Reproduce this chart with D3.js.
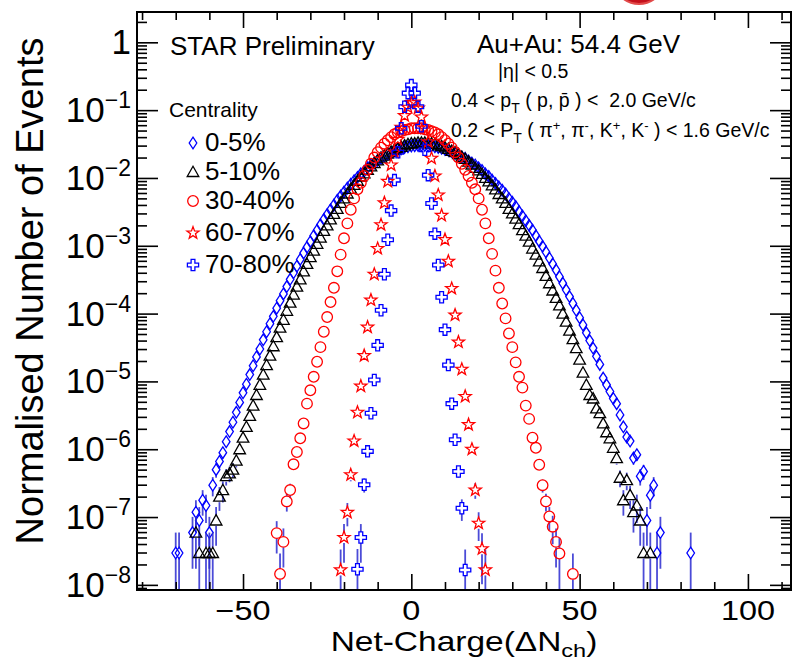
<!DOCTYPE html>
<html>
<head>
<meta charset="utf-8">
<script src="https://cdn.jsdelivr.net/npm/d3@7"></script>
<style>
  html, body { margin: 0; padding: 0; background: #ffffff; }
  svg { display: block; font-family: "Liberation Sans", Arial, Helvetica, sans-serif; }
</style>
</head>
<body>
<svg id="chart" width="792" height="662"></svg>
<script>
// ---------------- data ----------------
// Normalised event counts per net-charge bin (one bin per integer ΔN_ch),
// null where a bin is empty.
const centralityLabels = ["0-5%", "5-10%", "30-40%", "60-70%", "70-80%"];

const firstBin0to5 = -70;
const events0to5 = [
  2.95e-8, 2.95e-8, null, null, null, 5.9e-8, 1.18e-7, 8.9e-8, 1.77e-7, 1.48e-7,
  5.9e-8, 2.95e-7, 5.0e-7, 6.6e-7, 8.9e-7, 1.29e-6, 1.82e-6, 2.5e-6, 3.5e-6, 4.9e-6,
  6.8e-6, 9.1e-6, 1.26e-5, 1.70e-5, 2.3e-5, 3.0e-5, 4.1e-5, 5.4e-5, 7.1e-5, 9.1e-5,
  1.20e-4, 1.55e-4, 1.95e-4, 2.5e-4, 3.2e-4, 4.0e-4, 5.0e-4, 6.3e-4, 7.8e-4, 9.5e-4,
  1.15e-3, 1.41e-3, 1.70e-3, 2.04e-3, 2.45e-3, 2.9e-3, 3.4e-3, 4.0e-3, 4.7e-3, 5.4e-3,
  6.2e-3, 7.1e-3, 8.1e-3, 9.1e-3, 1.02e-2, 1.15e-2, 1.26e-2, 1.41e-2, 1.55e-2, 1.66e-2,
  1.82e-2, 1.95e-2, 2.09e-2, 2.24e-2, 2.34e-2, 2.5e-2, 2.63e-2, 2.69e-2, 2.82e-2, 2.88e-2,
  2.95e-2, 2.99e-2, 3.02e-2, 3.02e-2, 3.02e-2, 2.99e-2, 2.95e-2, 2.88e-2, 2.82e-2, 2.75e-2,
  2.63e-2, 2.57e-2, 2.45e-2, 2.29e-2, 2.19e-2, 2.04e-2, 1.95e-2, 1.78e-2, 1.66e-2, 1.55e-2,
  1.41e-2, 1.29e-2, 1.15e-2, 1.05e-2, 9.3e-3, 8.3e-3, 7.4e-3, 6.6e-3, 5.8e-3, 5.0e-3,
  4.4e-3, 3.8e-3, 3.2e-3, 2.75e-3, 2.34e-3, 2.0e-3, 1.70e-3, 1.41e-3, 1.17e-3, 9.8e-4,
  8.1e-4, 6.6e-4, 5.4e-4, 4.4e-4, 3.5e-4, 2.8e-4, 2.24e-4, 1.78e-4, 1.41e-4, 1.12e-4,
  8.7e-5, 6.8e-5, 5.2e-5, 4.0e-5, 3.1e-5, 2.34e-5, 1.78e-5, 1.12e-5, 8.9e-6, 7.1e-6,
  5.6e-6, 4.7e-6, 3.2e-6, 2.14e-6, 1.51e-6, 1.32e-6, 7.4e-7, 8.3e-7, 4.0e-7, 4.7e-7,
  8.9e-8, 2.1e-7, 2.95e-7, 2.95e-8, 5.9e-8, null, null, null, null, null,
  null, null, null, 2.95e-8
];

const firstBin5to10 = -64;
const events5to10 = [
  5.9e-8, 2.95e-8, null, 2.95e-8, 2.95e-8, 2.95e-8, 8.9e-8, 2.0e-7, 2.5e-7, 4.0e-7,
  4.4e-7, 5.0e-7, 6.8e-7, 1.0e-6, 1.48e-6, 2.14e-6, 3.1e-6, 4.4e-6, 6.3e-6, 8.9e-6,
  1.26e-5, 1.74e-5, 2.4e-5, 3.3e-5, 4.5e-5, 6.2e-5, 8.1e-5, 1.10e-4, 1.45e-4, 1.91e-4,
  2.5e-4, 3.2e-4, 4.2e-4, 5.4e-4, 6.8e-4, 8.5e-4, 1.07e-3, 1.32e-3, 1.66e-3, 2.0e-3,
  2.45e-3, 2.95e-3, 3.5e-3, 4.3e-3, 5.0e-3, 5.9e-3, 6.9e-3, 7.9e-3, 9.1e-3, 1.05e-2,
  1.17e-2, 1.32e-2, 1.48e-2, 1.66e-2, 1.82e-2, 2.0e-2, 2.14e-2, 2.29e-2, 2.45e-2, 2.63e-2,
  2.75e-2, 2.88e-2, 3.02e-2, 3.16e-2, 3.24e-2, 3.24e-2, 3.31e-2, 3.31e-2, 3.31e-2, 3.24e-2,
  3.24e-2, 3.16e-2, 3.02e-2, 2.95e-2, 2.82e-2, 2.69e-2, 2.51e-2, 2.40e-2, 2.24e-2, 2.04e-2,
  1.91e-2, 1.74e-2, 1.58e-2, 1.41e-2, 1.29e-2, 1.15e-2, 1.0e-2, 8.9e-3, 7.8e-3, 6.8e-3,
  5.8e-3, 5.0e-3, 4.3e-3, 3.5e-3, 3.0e-3, 2.51e-3, 2.09e-3, 1.70e-3, 1.41e-3, 1.15e-3,
  9.1e-4, 7.4e-4, 5.9e-4, 4.7e-4, 3.6e-4, 2.8e-4, 2.19e-4, 1.70e-4, 1.32e-4, 1.0e-4,
  7.6e-5, 5.6e-5, 4.2e-5, 3.1e-5, 2.1e-5, 1.35e-5, 8.9e-6, 6.3e-6, 5.6e-6, 4.0e-6,
  3.4e-6, 2.4e-6, 1.78e-6, 1.45e-6, 1.05e-6, 7.4e-7, 3.8e-7, 1.77e-7, 3.5e-7, 2.1e-7,
  1.18e-7, 1.48e-7, 8.9e-8, 2.95e-8, null, 2.95e-8
];

const firstBin30to40 = -40;
const events30to40 = [
  5.8e-8, 1.45e-8, 4.3e-8, 1.7e-7, 2.5e-7, 6.0e-7, 9.1e-7, 1.45e-6, 2.4e-6, 4.7e-6,
  7.4e-6, 1.17e-5, 1.95e-5, 3.2e-5, 5.4e-5, 8.9e-5, 1.48e-4, 2.4e-4, 4.2e-4, 7.4e-4,
  1.29e-3, 2.14e-3, 3.4e-3, 5.0e-3, 6.8e-3, 8.5e-3, 1.07e-2, 1.32e-2, 1.62e-2, 2.0e-2,
  2.4e-2, 2.8e-2, 3.2e-2, 3.6e-2, 4.0e-2, 4.4e-2, 4.7e-2, 4.9e-2, 5.1e-2, 5.2e-2,
  5.4e-2, 5.4e-2, 5.4e-2, 5.4e-2, 5.2e-2, 5.1e-2, 4.9e-2, 4.7e-2, 4.4e-2, 4.0e-2,
  3.6e-2, 3.2e-2, 2.8e-2, 2.4e-2, 2.0e-2, 1.62e-2, 1.32e-2, 1.07e-2, 8.5e-3, 6.8e-3,
  5.0e-3, 3.4e-3, 2.14e-3, 1.29e-3, 7.6e-4, 4.3e-4, 2.4e-4, 1.41e-4, 8.5e-5, 5.1e-5,
  3.2e-5, 1.91e-5, 1.17e-5, 8.1e-6, 4.4e-6, 2.8e-6, 1.48e-6, 1.05e-6, 5.9e-7, 2.95e-7,
  1.7e-7, 1.02e-7, 7.2e-8, 4.3e-8, 2.9e-8, null, null, null, 1.45e-8
];

const firstBin60to70 = -21;
const events60to70 = [
  1.66e-8, 5.0e-8, 1.17e-7, 4.2e-7, 1.32e-6, 3.5e-6, 8.5e-6, 2.4e-5, 6.3e-5, 1.58e-4,
  3.8e-4, 9.1e-4, 2.04e-3, 4.3e-3, 8.9e-3, 1.55e-2, 2.4e-2, 3.7e-2, 5.6e-2, 8.3e-2,
  1.10e-1, 1.29e-1, 1.32e-1, 1.07e-1, 7.9e-2, 5.4e-2, 3.4e-2, 1.95e-2, 1.07e-2, 5.6e-3,
  2.8e-3, 1.23e-3, 5.9e-4, 2.34e-4, 9.5e-5, 3.8e-5, 1.51e-5, 6.0e-6, 2.3e-6, 1.0e-6,
  2.5e-7, 8.1e-8, 3.4e-8, 1.66e-8
];

const firstBin70to80 = -16;
const events70to80 = [
  1.7e-8, 5.0e-8, 3.0e-7, 9.3e-7, 3.4e-6, 1.05e-5, 3.4e-5, 1.12e-4, 3.8e-4, 1.23e-3,
  3.3e-3, 9.3e-3, 2.4e-2, 5.4e-2, 1.12e-1, 1.78e-1, 2.34e-1, 1.78e-1, 1.12e-1, 5.8e-2,
  2.6e-2, 1.10e-2, 4.2e-3, 1.51e-3, 5.2e-4, 1.74e-4, 5.8e-5, 1.74e-5, 4.7e-6, 1.38e-6,
  4.7e-7, 1.35e-7, 1.66e-8
];

// Normalised weight of a single event in each class (sets the Poisson error bars)
const singleEventWeight = [2.95e-8, 2.95e-8, 1.45e-8, 1.66e-8, 1.66e-8];

// Axis ticks and labels
const xMajorTicks = [-50, 0, 50, 100];
const xTickLabels = ["\u221250", "0", "50", "100"];
const xMinorTicks = [-80, -70, -60, -40, -30, -20, -10, 10, 20, 30, 40, 60, 70, 80, 90, 110];
const yDecadeExponents = [0, -1, -2, -3, -4, -5, -6, -7, -8];

// ---------------- layout ----------------
const svg = d3.select("#chart");
const plot = { left: 137, right: 791, top: 12, bottom: 590 };

const x = d3.scaleLinear().domain([-81.5, 112.8]).range([plot.left, plot.right]);
const y = d3.scaleLog().domain([8.4e-9, 2.8]).range([plot.bottom, plot.top]);

// ---------------- marker shapes ----------------
function starPath(R, r) {
  const pts = [];
  for (let i = 0; i < 10; i++) {
    const a = -Math.PI / 2 + i * Math.PI / 5;
    const rad = i % 2 ? r : R;
    pts.push([rad * Math.cos(a), rad * Math.sin(a)]);
  }
  return "M" + pts.map(p => p[0].toFixed(2) + "," + p[1].toFixed(2)).join("L") + "Z";
}
const a = 1.9, L = 5.6;
const markerPaths = {
  diamond: "M0,-5.8L3.8,0L0,5.8L-3.8,0Z",
  triangle: "M0,-5.8L5.8,4.5L-5.8,4.5Z",
  circle: d3.arc()({ innerRadius: 0, outerRadius: 5.3, startAngle: 0, endAngle: 2 * Math.PI }),
  star: starPath(6.4, 2.6),
  cross: `M${-a},${-L}L${a},${-L}L${a},${-a}L${L},${-a}L${L},${a}L${a},${a}L${a},${L}L${-a},${L}L${-a},${a}L${-L},${a}L${-L},${-a}L${-a},${-a}Z`
};

const seriesList = [
  { label: centralityLabels[0], start: firstBin0to5,  values: events0to5,  unit: singleEventWeight[0], shape: "diamond",  color: "#0000ff" },
  { label: centralityLabels[1], start: firstBin5to10, values: events5to10, unit: singleEventWeight[1], shape: "triangle", color: "#000000" },
  { label: centralityLabels[2], start: firstBin30to40, values: events30to40, unit: singleEventWeight[2], shape: "circle", color: "#ff0000" },
  { label: centralityLabels[3], start: firstBin60to70, values: events60to70, unit: singleEventWeight[3], shape: "star",   color: "#ff0000" },
  { label: centralityLabels[4], start: firstBin70to80, values: events70to80, unit: singleEventWeight[4], shape: "cross",  color: "#0000ff" }
];

// ---------------- clip ----------------
svg.append("defs").append("clipPath").attr("id", "plotClip")
  .append("rect")
  .attr("x", plot.left).attr("y", plot.top)
  .attr("width", plot.right - plot.left).attr("height", plot.bottom - plot.top);

// logo peeking in above the frame
svg.append("circle").attr("cx", 639).attr("cy", -22).attr("r", 26)
  .attr("fill", "#c4101c").attr("stroke", "#e24a4a").attr("stroke-width", 2);

// ---------------- data points ----------------
const dataLayer = svg.append("g").attr("clip-path", "url(#plotClip)");

seriesList.forEach(s => {
  const pts = s.values
    .map((v, i) => ({ bin: s.start + i, v }))
    .filter(p => p.v !== null);

  // Poisson error bars, drawn outside the marker only
  const gap = 5.5;
  const eg = dataLayer.append("g")
    .attr("stroke", "#2b2bd0").attr("stroke-opacity", 0.85).attr("stroke-width", 1.8);
  pts.forEach(p => {
    const err = Math.sqrt(p.v * s.unit);
    const cx = x(p.bin), cy = y(p.v);
    const yTop = y(p.v + err);
    const yBot = p.v - err > 1e-12 ? y(p.v - err) : plot.bottom + 5;
    if (cy - yTop > gap) eg.append("line").attr("x1", cx).attr("x2", cx).attr("y1", yTop).attr("y2", cy - gap);
    if (yBot - cy > gap) eg.append("line").attr("x1", cx).attr("x2", cx).attr("y1", cy + gap).attr("y2", yBot);
  });

  dataLayer.append("g")
    .selectAll("path")
    .data(pts)
    .join("path")
    .attr("d", markerPaths[s.shape])
    .attr("transform", p => `translate(${x(p.bin)},${y(p.v)})`)
    .attr("fill", "none")
    .attr("stroke", s.color)
    .attr("stroke-width", 1.3);
});

// ---------------- axes ----------------
const axisStyle = g => {
  g.select(".domain").remove();
  g.selectAll(".tick line").attr("stroke", "#000").attr("stroke-width", 1.6);
  g.selectAll(".tick text").remove();
};

// x axis: bottom and top
[[d3.axisBottom, plot.bottom], [d3.axisTop, plot.top]].forEach(([axisFn, yPos]) => {
  svg.append("g").attr("transform", `translate(0,${yPos})`)
    .call(axisFn(x).tickValues(xMajorTicks).tickSize(-16).tickFormat(""))
    .call(axisStyle);
  svg.append("g").attr("transform", `translate(0,${yPos})`)
    .call(axisFn(x).tickValues(xMinorTicks).tickSize(-8).tickFormat(""))
    .call(axisStyle);
});

// y axis: left and right
const yMajor = yDecadeExponents.map(e => Math.pow(10, e));
const yMinor = [];
for (let e = -9; e <= 0; e++) {
  for (let m = 2; m <= 9; m++) {
    const v = m * Math.pow(10, e);
    if (v > y.domain()[0] && v < y.domain()[1]) yMinor.push(v);
  }
}
[[d3.axisLeft, plot.left], [d3.axisRight, plot.right]].forEach(([axisFn, xPos]) => {
  svg.append("g").attr("transform", `translate(${xPos},0)`)
    .call(axisFn(y).tickValues(yMajor).tickSize(-21).tickFormat(""))
    .call(axisStyle);
  svg.append("g").attr("transform", `translate(${xPos},0)`)
    .call(axisFn(y).tickValues(yMinor).tickSize(-10).tickFormat(""))
    .call(axisStyle);
});

// frame
svg.append("rect")
  .attr("x", plot.left).attr("y", plot.top)
  .attr("width", plot.right - plot.left).attr("height", plot.bottom - plot.top)
  .attr("fill", "none").attr("stroke", "#000").attr("stroke-width", 2);

// x tick labels (slightly widened glyphs)
svg.append("g").selectAll("text")
  .data(xMajorTicks)
  .join("text")
  .attr("transform", d => `translate(${x(d)},620) scale(1.2,1)`)
  .attr("text-anchor", "middle")
  .attr("font-size", 27)
  .text((d, i) => xTickLabels[i]);

// y tick labels (powers of ten)
const yLabels = svg.append("g");
yDecadeExponents.forEach(e => {
  const t = yLabels.append("text")
    .attr("x", 131)
    .attr("y", y(Math.pow(10, e)) + 12)
    .attr("text-anchor", "end")
    .attr("font-size", 35);
  if (e === 0) {
    t.text("1");
  } else {
    t.append("tspan").text("10");
    t.append("tspan").attr("dy", -14).attr("font-size", 23).text("\u2212" + (-e));
  }
});

// axis titles
const xt = svg.append("text")
  .attr("transform", "translate(464,651) scale(1.24,1)")
  .attr("text-anchor", "middle")
  .attr("font-size", 27);
xt.append("tspan").text("Net-Charge(\u0394N");
xt.append("tspan").attr("dy", 6).attr("font-size", 19).text("ch");
xt.append("tspan").attr("dy", -6).text(")");

svg.append("text")
  .attr("transform", "translate(43,291) rotate(-90)")
  .attr("text-anchor", "middle")
  .attr("font-size", 38)
  .text("Normalised Number of Events");

// ---------------- annotations ----------------
svg.append("text").attr("x", 170).attr("y", 55).attr("font-size", 26).text("STAR Preliminary");
svg.append("text").attr("x", 477).attr("y", 53).attr("font-size", 26).text("Au+Au: 54.4 GeV");
svg.append("text").attr("x", 498).attr("y", 78).attr("font-size", 19.5).text("|\u03b7| < 0.5");

const cut1 = svg.append("text").attr("x", 451).attr("y", 107).attr("font-size", 19.5);
cut1.append("tspan").text("0.4 < p");
cut1.append("tspan").attr("dy", 6).attr("font-size", 14).text("T");
cut1.append("tspan").attr("dy", -6).text(" ( p, p\u0304 ) <\u00a0\u00a02.0 GeV/c");

const cut2 = svg.append("text").attr("x", 451).attr("y", 137).attr("font-size", 19.5);
cut2.append("tspan").text("0.2 < P");
cut2.append("tspan").attr("dy", 6).attr("font-size", 14).text("T");
cut2.append("tspan").attr("dy", -6).text(" ( \u03c0");
cut2.append("tspan").attr("dy", -7).attr("font-size", 13).text("+");
cut2.append("tspan").attr("dy", 7).text(", \u03c0");
cut2.append("tspan").attr("dy", -7).attr("font-size", 13).text("-");
cut2.append("tspan").attr("dy", 7).text(", K");
cut2.append("tspan").attr("dy", -7).attr("font-size", 13).text("+");
cut2.append("tspan").attr("dy", 7).text(", K");
cut2.append("tspan").attr("dy", -7).attr("font-size", 13).text("-");
cut2.append("tspan").attr("dy", 7).text(" ) < 1.6 GeV/c");

// ---------------- legend ----------------
svg.append("text").attr("x", 169).attr("y", 117).attr("font-size", 21).text("Centrality");
const legendBaselines = [151, 180, 209, 241, 273];
seriesList.forEach((s, i) => {
  const by = legendBaselines[i];
  svg.append("path")
    .attr("d", markerPaths[s.shape])
    .attr("transform", `translate(193,${by - 8})`)
    .attr("fill", "none").attr("stroke", s.color).attr("stroke-width", 1.3);
  svg.append("text").attr("x", 205).attr("y", by).attr("font-size", 26).text(s.label);
});
</script>
</body>
</html>
